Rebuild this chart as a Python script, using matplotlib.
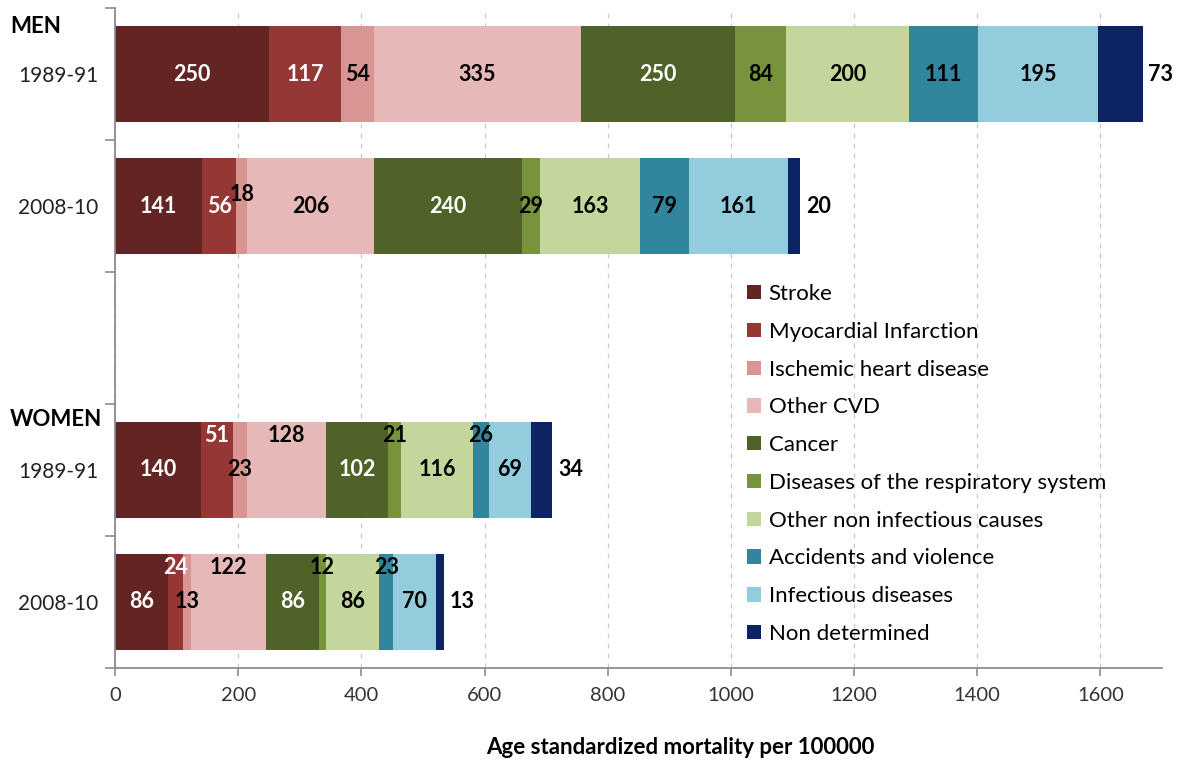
import matplotlib.pyplot as plt
import numpy as np
from matplotlib.patches import Patch

plt.rcParams['font.family'] = ['Lato', 'DejaVu Sans']

causes = ['Stroke', 'Myocardial Infarction', 'Ischemic heart disease', 'Other CVD',
          'Cancer', 'Diseases of the respiratory system', 'Other non infectious causes',
          'Accidents and violence', 'Infectious diseases', 'Non determined']
periods = ['1989-91', '2008-10', '', '1989-91', '2008-10']
groups = ['MEN', 'WOMEN']

men_1989 = [250, 117, 54, 335, 250, 84, 200, 111, 195, 73]
men_2008 = [141, 56, 18, 206, 240, 29, 163, 79, 161, 20]
women_1989 = [140, 51, 23, 128, 102, 21, 116, 26, 69, 34]
women_2008 = [86, 24, 13, 122, 86, 12, 86, 23, 70, 13]

colors = ['#632523', '#953735', '#d99594', '#e6b9b8', '#4f6228',
          '#77933c', '#c3d69b', '#31859c', '#93cddd', '#0c2463']
white_text = {0, 1, 4}

# bar rows (slot 2 is an empty spacer between men and women)
rows = {0: men_1989, 1: men_2008, 3: women_1989, 4: women_2008}
# labels nudged upwards (row, cause index) -> shift in slot units
raise_label = {(1, 2): 0.09,
               (3, 1): 0.26, (3, 3): 0.26, (3, 5): 0.26, (3, 7): 0.26,
               (4, 1): 0.26, (4, 3): 0.26, (4, 5): 0.26, (4, 7): 0.26}

fig = plt.figure(figsize=(11.77, 7.61), dpi=100)
ax = fig.add_axes([115 / 1177, 1 - 668 / 761, (1162 - 115) / 1177, 660 / 761])

for y, vals in rows.items():
    left = 0
    for i, v in enumerate(vals):
        ax.barh(y, v, left=left, height=0.73, color=colors[i], zorder=2)
        if i == len(vals) - 1:
            ax.annotate(str(v), (left + v, y), xytext=(4, 0), textcoords='offset points',
                        ha='left', va='center', fontsize=15.5, fontweight='bold', color='black')
        else:
            dy = raise_label.get((y, i), 0)
            ax.text(left + v / 2, y - dy, str(v), ha='center', va='center', fontsize=15.5,
                    fontweight='bold', color='white' if i in white_text else 'black', zorder=3)
        left += v

ax.set_xlim(0, 1700)
ax.set_ylim(4.5, -0.5)
ax.set_xticks(np.arange(0, 1601, 200))
ax.tick_params(axis='x', labelsize=14.5, colors='#333333', length=6, width=1.2,
               direction='out', color='#8c8c8c', pad=8)
ax.set_yticks([0, 1, 3, 4])
ax.set_yticklabels([periods[i] for i in [0, 1, 3, 4]])
ax.set_yticks(np.arange(-0.5, 4.6, 1), minor=True)
ax.tick_params(axis='y', which='major', length=0, labelsize=15, pad=12, colors='#222222')
ax.tick_params(axis='y', which='minor', length=7, width=1.2, color='#8c8c8c')

ax.grid(axis='x', linestyle=(0, (4, 4)), color='#cccccc', linewidth=0.9, zorder=0)
for s in ['top', 'right']:
    ax.spines[s].set_visible(False)
for s in ['left', 'bottom']:
    ax.spines[s].set_color('#8c8c8c')
    ax.spines[s].set_linewidth(1.3)

ax.set_xlabel('Age standardized mortality per 100000', fontsize=16, fontweight='bold')
ax.xaxis.set_label_coords(0.54, -0.105)

tr = ax.get_yaxis_transform()
ax.text(-0.1, -0.36, groups[0], transform=tr, fontsize=16, fontweight='bold',
        ha='left', va='center')
ax.text(-0.1, 2.62, groups[1], transform=tr, fontsize=16, fontweight='bold',
        ha='left', va='center')

handles = [Patch(facecolor=c, label=l) for c, l in zip(colors, causes)]
ax.legend(handles=handles, loc='upper left', bbox_to_anchor=(747 / 1177, 1 - 284 / 761),
          bbox_transform=fig.transFigure, frameon=False, fontsize=16,
          handlelength=0.62, handleheight=0.62, handletextpad=0.35,
          labelspacing=0.8, borderpad=0, borderaxespad=0)

fig.savefig('out.png', dpi=100)
